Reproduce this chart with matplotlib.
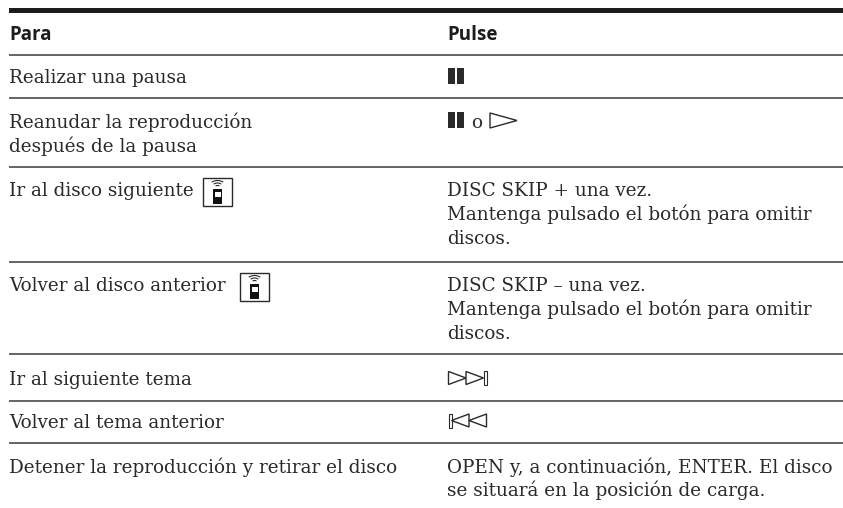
"""Spanish remote-control table from a CD changer manual, drawn in pixel coordinates."""
from __future__ import annotations

import matplotlib

matplotlib.use("Agg")
import matplotlib.pyplot as plt
from matplotlib.patches import Arc, Polygon, Rectangle

INK = "#2a2a2a"
RULE = "#4a4a4a"
SERIF = ["DejaVu Serif"]
SANS = ["Open Sans", "DejaVu Sans"]
BODY_SIZE = 13.25

HEADERS = ["Para", "Pulse"]
# (text, baseline y)
LEFT_LINES = [
    ("Realizar una pausa", 83),
    ("Reanudar la reproducción", 128),
    ("después de la pausa", 152),
    ("Ir al disco siguiente", 196.5),
    ("Volver al disco anterior", 291),
    ("Ir al siguiente tema", 385),
    ("Volver al tema anterior", 428),
    ("Detener la reproducción y retirar el disco", 473),
]
RIGHT_LINES = [
    ("DISC SKIP + una vez.", 196.5),
    ("Mantenga pulsado el botón para omitir", 220.5),
    ("discos.", 244),
    ("DISC SKIP – una vez.", 291),
    ("Mantenga pulsado el botón para omitir", 315),
    ("discos.", 339),
    ("OPEN y, a continuación, ENTER. El disco", 473),
    ("se situará en la posición de carga.", 496),
]
RULES_Y = [55, 98, 167, 262, 354, 401, 443]


def draw_pause(ax, x, y):
    ax.add_patch(Rectangle((x, y), 7, 16, fc=INK, ec="none"))
    ax.add_patch(Rectangle((x + 9, y), 7, 16, fc=INK, ec="none"))


def draw_triangle(ax, x0, x1, y_mid, half):
    ax.add_patch(Polygon([(x0, y_mid - half), (x1, y_mid), (x0, y_mid + half)],
                         closed=True, fc="white", ec=INK, lw=1.0))


def draw_remote(ax, x, y):
    ax.add_patch(Rectangle((x, y), 29, 28, fc="white", ec=INK, lw=1.0))
    ax.add_patch(Rectangle((x + 10, y + 11), 9, 15, fc="#111111", ec="none"))
    ax.add_patch(Rectangle((x + 12, y + 14), 5.5, 5, fc="white", ec="none"))
    for w, h in ((6, 5), (12, 10), (18, 15)):
        ax.add_patch(Arc((x + 14.5, y + 10), w, h, theta1=225, theta2=315, color=INK, lw=0.8))


fig = plt.figure(figsize=(8.43, 5.08), dpi=100)
ax = fig.add_axes([0, 0, 1, 1])
ax.set_xlim(0, 843)
ax.set_ylim(508, 0)
ax.axis("off")

ax.add_patch(Rectangle((9, 8), 834, 5, fc="#1c1c1c", ec="none"))
for y in RULES_Y:
    ax.plot([9, 843], [y, y], color=RULE, lw=1.2, solid_capstyle="butt")

ax.text(9, 39.5, HEADERS[0], family=SANS, weight="bold", fontsize=13.5, color="#1c1c1c", va="baseline")
ax.text(447, 39.5, HEADERS[1], family=SANS, weight="bold", fontsize=13.5, color="#1c1c1c", va="baseline")

for label, y in LEFT_LINES:
    ax.text(9, y, label, family=SERIF, fontsize=BODY_SIZE, color=INK, va="baseline")
for label, y in RIGHT_LINES:
    ax.text(447, y, label, family=SERIF, fontsize=BODY_SIZE, color=INK, va="baseline")

draw_pause(ax, 448, 68)
draw_pause(ax, 448, 112)
ax.text(471, 128, "o", family=SERIF, fontsize=BODY_SIZE, color=INK, va="baseline")
draw_triangle(ax, 490, 517, 120.5, 7.5)

draw_remote(ax, 203, 178)
draw_remote(ax, 240, 273)

draw_triangle(ax, 448.5, 466, 378, 6.5)
draw_triangle(ax, 466, 483.5, 378, 6.5)
ax.add_patch(Rectangle((483.5, 371), 3, 13.5, fc="white", ec=INK, lw=0.8))

ax.add_patch(Rectangle((448.5, 414), 3, 13.5, fc="white", ec=INK, lw=0.8))
draw_triangle(ax, 469, 451.5, 420.5, 6.5)
draw_triangle(ax, 486.5, 469, 420.5, 6.5)

fig.savefig("out.png", dpi=100, facecolor="white")
